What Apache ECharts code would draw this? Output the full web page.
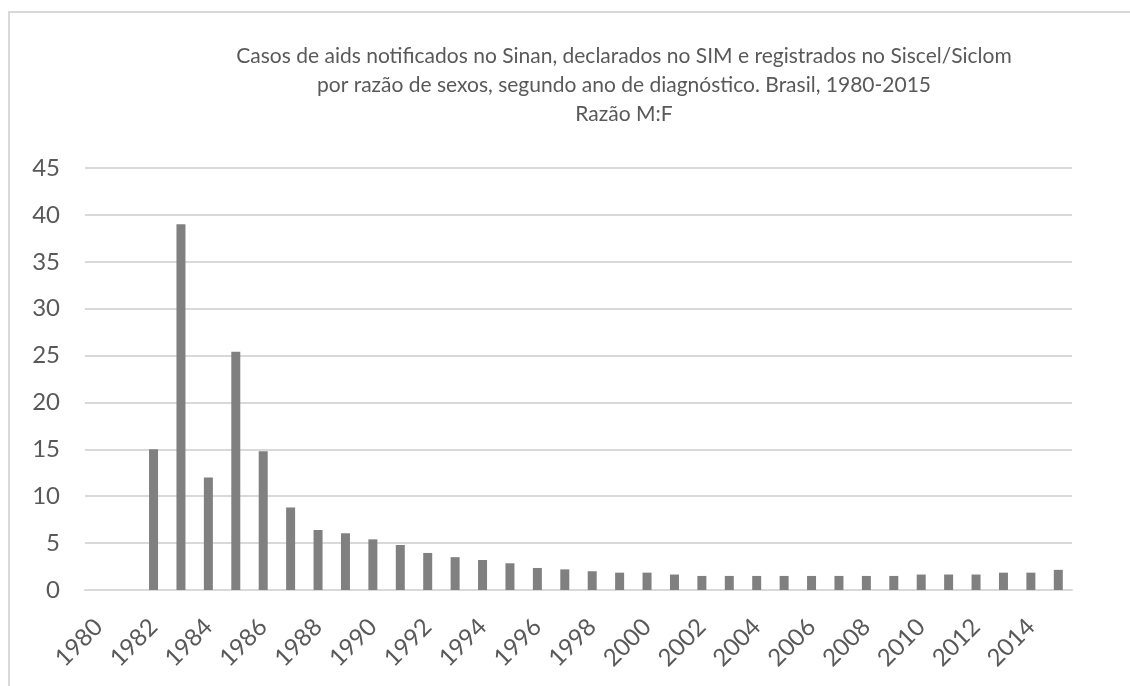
<!DOCTYPE html>
<html>
<head>
<meta charset="utf-8">
<script src="https://cdn.jsdelivr.net/npm/echarts@6/dist/echarts.min.js"></script>
<style>
  html, body { margin: 0; padding: 0; background: #fff; }
  #chart { width: 1130px; height: 686px; }
</style>
</head>
<body>
<div id="chart"></div>
<script>
// anos de diagnóstico
const years = [];
for (let y = 1980; y <= 2015; y++) years.push(String(y));

// razão M:F por ano (1980 e 1981 sem casos)
const ratioMF = [
  null, null, 15.0, 39.0, 12.0, 25.4, 14.8, 8.8, 6.4, 6.05,
  5.4, 4.8, 3.95, 3.5, 3.2, 2.85, 2.35, 2.2, 2.0, 1.85,
  1.85, 1.65, 1.5, 1.5, 1.5, 1.5, 1.5, 1.5, 1.5, 1.5,
  1.65, 1.65, 1.65, 1.85, 1.85, 2.15
];

const titleLines = [
  'Casos de aids notificados no Sinan, declarados no SIM e registrados no Siscel/Siclom',
  'por razão de sexos, segundo ano de diagnóstico. Brasil, 1980-2015',
  'Razão M:F'
];

const textColor = '#595959';
const font = 'Lato, "Open Sans", sans-serif';

const chart = echarts.init(document.getElementById('chart'), null, { renderer: 'canvas' });

chart.setOption({
  animation: false,
  backgroundColor: '#fff',
  title: {
    text: titleLines.join('\n'),
    left: 619,
    top: 37,
    textAlign: 'center',
    textStyle: {
      color: textColor,
      fontFamily: font,
      fontWeight: 'normal',
      fontSize: 21,
      lineHeight: 29
    }
  },
  graphic: [
    {
      type: 'rect',
      shape: { x: 9, y: 12, width: 1200, height: 800 },
      style: { fill: null, stroke: '#d9d9d9', lineWidth: 2 },
      silent: true
    }
  ],
  grid: {
    left: 85,
    right: 58,
    top: 168,
    bottom: 96
  },
  xAxis: {
    type: 'category',
    data: years,
    axisLine: { lineStyle: { color: '#d9d9d9', width: 2 } },
    axisTick: { show: false },
    axisLabel: {
      interval: 1,
      rotate: 45,
      margin: 33,
      color: textColor,
      fontFamily: font,
      fontSize: 24
    }
  },
  yAxis: {
    type: 'value',
    min: 0,
    max: 45,
    interval: 5,
    axisLine: { show: false },
    axisTick: { show: false },
    splitLine: { lineStyle: { color: '#d9d9d9', width: 2 } },
    axisLabel: {
      margin: 25,
      color: textColor,
      fontFamily: font,
      fontSize: 24
    }
  },
  series: [
    {
      type: 'bar',
      data: ratioMF,
      barWidth: 9,
      itemStyle: { color: '#808080' }
    }
  ]
});
</script>
</body>
</html>
